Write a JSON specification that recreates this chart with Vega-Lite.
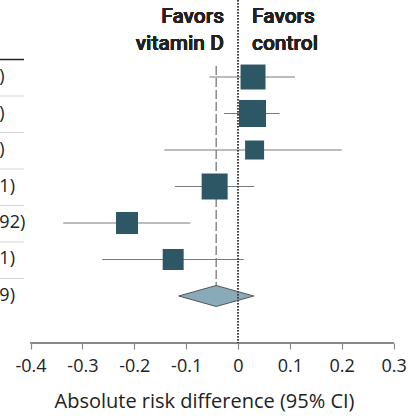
{
  "$schema": "https://vega.github.io/schema/vega-lite/v6.json",
  "width": 408,
  "height": 343,
  "autosize": {"type": "none"},
  "padding": {"left": 0, "top": 0, "right": 0, "bottom": 74},
  "config": {"view": {"stroke": null}, "font": "Open Sans"},
  "data": {
    "values": [
      {"row": 1, "kind": "study", "est": 0.029, "lo": -0.055, "hi": 0.110, "weight": 18.8, "label": "0.029 (−0.055 to 0.110)"},
      {"row": 2, "kind": "study", "est": 0.028, "lo": -0.027, "hi": 0.080, "weight": 22.0, "label": "0.028 (−0.027 to 0.080)"},
      {"row": 3, "kind": "study", "est": 0.032, "lo": -0.142, "hi": 0.200, "weight": 10.9, "label": "0.032 (−0.142 to 0.200)"},
      {"row": 4, "kind": "study", "est": -0.045, "lo": -0.122, "hi": 0.031, "weight": 20.4, "label": "−0.045 (−0.122 to 0.031)"},
      {"row": 5, "kind": "study", "est": -0.214, "lo": -0.337, "hi": -0.092, "weight": 14.6, "label": "−0.214 (−0.337 to −0.092)"},
      {"row": 6, "kind": "study", "est": -0.125, "lo": -0.262, "hi": 0.011, "weight": 13.3, "label": "−0.125 (−0.262 to 0.011)"},
      {"row": 7, "kind": "pooled", "est": -0.042, "lo": -0.114, "hi": 0.029, "weight": null, "label": "−0.042 (−0.114 to 0.029)"}
    ]
  },
  "layer": [
    {
      "mark": {"type": "rule", "clip": true, "yOffset": -17.5},
      "encoding": {
        "x": {"datum": -0.47, "type": "quantitative", "scale": {"domain": [-0.4589, 0.3278], "nice": false, "zero": false}},
        "x2": {"datum": -0.4127},
        "y": {"field": "row", "type": "quantitative", "scale": {"domain": [-1.11, 8.288], "nice": false, "zero": false, "reverse": true}, "axis": null},
        "color": {"condition": {"test": "datum.row === 1", "value": "#222222"}, "value": "#d4d4d4"},
        "strokeWidth": {"condition": {"test": "datum.row === 1", "value": 1.5}, "value": 1}
      }
    },
    {
      "mark": {"type": "text", "clip": true, "align": "left", "baseline": "middle", "fontSize": 18, "color": "#222222"},
      "encoding": {
        "x": {"datum": -0.816, "type": "quantitative", "scale": {"domain": [-0.4589, 0.3278], "nice": false, "zero": false}},
        "y": {"field": "row", "type": "quantitative", "scale": {"domain": [-1.11, 8.288], "nice": false, "zero": false, "reverse": true}, "axis": null},
        "text": {"field": "label"}
      }
    },
    {
      "mark": {"type": "rule", "color": "#888888", "strokeWidth": 1.2},
      "encoding": {
        "x": {"datum": -0.4, "type": "quantitative", "scale": {"domain": [-0.4589, 0.3278], "nice": false, "zero": false},
          "axis": {
            "values": [-0.4, -0.3, -0.2, -0.1, 0, 0.1, 0.2, 0.3],
            "format": "~g",
            "labelExpr": "replace(datum.label, '−', '-')",
            "domain": false, "grid": false,
            "tickColor": "#888888", "tickSize": 6, "tickWidth": 1.2,
            "labelFontSize": 18, "labelColor": "#222222", "labelPadding": 8, "labelFlush": false,
            "title": "Absolute risk difference (95% CI)",
            "titleFontSize": 20, "titleFontWeight": "normal", "titleColor": "#222222", "titlePadding": 16
          }},
        "x2": {"datum": 0.3},
        "y": {"datum": 8.288, "type": "quantitative", "scale": {"domain": [-1.11, 8.288], "nice": false, "zero": false, "reverse": true}, "axis": null}
      }
    },
    {
      "transform": [{"filter": "datum.kind === 'pooled'"}],
      "mark": {"type": "rule", "color": "#8a8a8a", "strokeWidth": 1.5, "strokeDash": [9, 3]},
      "encoding": {
        "x": {"field": "est", "type": "quantitative", "scale": {"domain": [-0.4589, 0.3278], "nice": false, "zero": false}},
        "y": {"datum": 0.7, "type": "quantitative", "scale": {"domain": [-1.11, 8.288], "nice": false, "zero": false, "reverse": true}, "axis": null},
        "y2": {"datum": 6.72}
      }
    },
    {
      "transform": [{"filter": "datum.kind === 'study'"}],
      "mark": {"type": "rule", "color": "#7a7a7a", "strokeWidth": 1.2},
      "encoding": {
        "x": {"field": "lo", "type": "quantitative", "scale": {"domain": [-0.4589, 0.3278], "nice": false, "zero": false}},
        "x2": {"field": "hi"},
        "y": {"field": "row", "type": "quantitative", "scale": {"domain": [-1.11, 8.288], "nice": false, "zero": false, "reverse": true}, "axis": null}
      }
    },
    {
      "transform": [{"filter": "datum.kind === 'study'"}],
      "mark": {"type": "point", "shape": "square", "filled": true, "opacity": 1, "color": "#2d5765"},
      "encoding": {
        "x": {"field": "est", "type": "quantitative", "scale": {"domain": [-0.4589, 0.3278], "nice": false, "zero": false}},
        "y": {"field": "row", "type": "quantitative", "scale": {"domain": [-1.11, 8.288], "nice": false, "zero": false, "reverse": true}, "axis": null},
        "size": {"field": "weight", "type": "quantitative", "scale": {"domain": [0, 22], "range": [0, 729], "zero": true}, "legend": null}
      }
    },
    {
      "transform": [{"filter": "datum.kind === 'pooled'"}],
      "mark": {"type": "point", "shape": "M-1,0L0,-0.28L1,0L0,0.28Z", "filled": true, "opacity": 1, "fill": "#88aab9", "stroke": "#555555", "strokeWidth": 1, "size": 5625},
      "encoding": {
        "x": {"field": "est", "type": "quantitative", "scale": {"domain": [-0.4589, 0.3278], "nice": false, "zero": false}},
        "y": {"field": "row", "type": "quantitative", "scale": {"domain": [-1.11, 8.288], "nice": false, "zero": false, "reverse": true}, "axis": null}
      }
    },
    {
      "mark": {"type": "rule", "color": "#444444", "strokeWidth": 1.1, "strokeDash": [1.2, 1.8]},
      "encoding": {
        "x": {"datum": 0, "type": "quantitative", "scale": {"domain": [-0.4589, 0.3278], "nice": false, "zero": false}}
      }
    },
    {
      "mark": {"type": "text", "text": ["Favors", "vitamin D"], "font": "Roboto", "align": "right", "baseline": "alphabetic", "dx": -14, "fontSize": 21, "fontWeight": 500, "lineHeight": 27, "color": "#222222"},
      "encoding": {
        "x": {"datum": 0, "type": "quantitative", "scale": {"domain": [-0.4589, 0.3278], "nice": false, "zero": false}},
        "y": {"datum": -0.479, "type": "quantitative", "scale": {"domain": [-1.11, 8.288], "nice": false, "zero": false, "reverse": true}, "axis": null}
      }
    },
    {
      "mark": {"type": "text", "text": ["Favors", "control"], "font": "Roboto", "align": "left", "baseline": "alphabetic", "dx": 14, "fontSize": 21, "fontWeight": 500, "lineHeight": 27, "color": "#222222"},
      "encoding": {
        "x": {"datum": 0, "type": "quantitative", "scale": {"domain": [-0.4589, 0.3278], "nice": false, "zero": false}},
        "y": {"datum": -0.479, "type": "quantitative", "scale": {"domain": [-1.11, 8.288], "nice": false, "zero": false, "reverse": true}, "axis": null}
      }
    }
  ]
}
